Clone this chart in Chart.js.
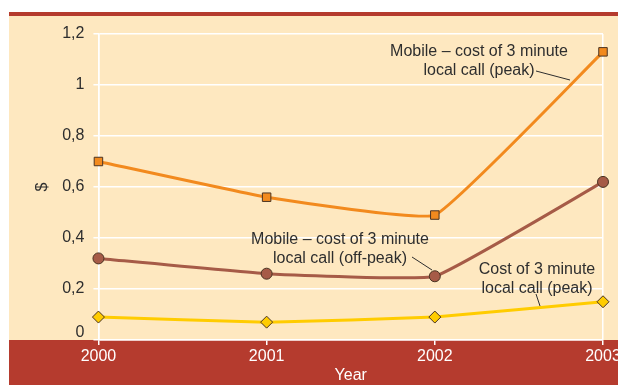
<!DOCTYPE html>
<html>
<head>
<meta charset="utf-8">
<script src="https://cdn.jsdelivr.net/npm/chart.js@4.4.0/dist/chart.umd.min.js"></script>
<style>
  html, body { margin: 0; padding: 0; background: #fff; }
  #wrap { width: 618px; height: 385px; }
</style>
</head>
<body>
<div id="wrap"><canvas id="chart" width="618" height="385"></canvas></div>
<script>
// Prix des appels, en $
const years = ['2000', '2001', '2002', '2003'];
const mobilePeak = [0.70, 0.56, 0.49, 1.13];
const mobileOffPeak = [0.32, 0.26, 0.25, 0.62];
const localPeak = [0.09, 0.07, 0.09, 0.15];

const FONT = "'Liberation Sans', Arial, sans-serif";
const RED = '#b53b2e';
const CREAM = '#fee8c0';
const TEXT = '#2e2e2e';

// Etiquettes des courbes avec leur trait de rappel
const callouts = [
  { lines: ['Mobile – cost of 3 minute', 'local call (peak)'], x: 479, y: 52, lead: [536, 71, 570, 80] },
  { lines: ['Mobile – cost of 3 minute', 'local call (off-peak)'], x: 340, y: 240, lead: [412, 257, 432, 270] },
  { lines: ['Cost of 3 minute', 'local call (peak)'], x: 537, y: 270, lead: [536, 294, 540, 306] }
];

// Fond : bandeau rouge en haut, zone crème, bande rouge sous l'axe
const backdrop = {
  id: 'backdrop',
  beforeDraw(chart) {
    const { ctx, width, height, chartArea } = chart;
    ctx.save();
    ctx.fillStyle = '#fff';
    ctx.fillRect(0, 0, width, height);
    ctx.fillStyle = RED;
    ctx.fillRect(9, 12, width - 9, 4);
    ctx.fillStyle = CREAM;
    ctx.fillRect(9, 16, width - 9, chartArea.bottom - 16);
    ctx.fillStyle = RED;
    ctx.fillRect(9, chartArea.bottom, width - 9, height - chartArea.bottom);
    ctx.restore();
  }
};

const calloutPlugin = {
  id: 'callouts',
  afterDatasetsDraw(chart) {
    const ctx = chart.ctx;
    ctx.save();
    ctx.font = '16px ' + FONT;
    ctx.fillStyle = TEXT;
    ctx.strokeStyle = TEXT;
    ctx.lineWidth = 1;
    ctx.textAlign = 'center';
    ctx.textBaseline = 'middle';
    callouts.forEach(c => {
      c.lines.forEach((t, i) => ctx.fillText(t, c.x, c.y + i * 19));
      ctx.beginPath();
      ctx.moveTo(c.lead[0], c.lead[1]);
      ctx.lineTo(c.lead[2], c.lead[3]);
      ctx.stroke();
    });
    ctx.restore();
  }
};

function makeSet(label, data, color, style, radius) {
  return {
    label,
    data,
    borderColor: color,
    backgroundColor: color,
    borderWidth: 3,
    tension: 0.1,
    pointStyle: style,
    pointRadius: radius,
    pointBorderColor: '#4a3322',
    pointBorderWidth: 1,
    pointBackgroundColor: color
  };
}

new Chart(document.getElementById('chart'), {
  type: 'line',
  data: {
    labels: years,
    datasets: [
      makeSet('Mobile – cost of 3 minute local call (peak)', mobilePeak, '#f28a1e', 'rect', 6),
      makeSet('Mobile – cost of 3 minute local call (off-peak)', mobileOffPeak, '#a65b47', 'circle', 5.5),
      makeSet('Cost of 3 minute local call (peak)', localPeak, '#ffcc00', 'rectRot', 6)
    ]
  },
  options: {
    responsive: false,
    animation: false,
    layout: { padding: { top: 34, right: 15, bottom: 0, left: 33 } },
    plugins: {
      legend: { display: false },
      tooltip: { enabled: false }
    },
    scales: {
      x: {
        offset: false,
        // le libellé 2003 déborde à droite, comme sur l'original
        afterFit: s => { s.paddingRight = 15; s.height = 45; },
        grid: {
          color: c => (c.index === 0 || c.index === years.length - 1) ? '#fff' : 'rgba(0,0,0,0)',
          tickColor: '#fff',
          tickLength: 5,
          lineWidth: 1.5
        },
        border: { color: '#fff', width: 1.5 },
        ticks: { color: '#fff', font: { family: FONT, size: 16 }, padding: 2, maxRotation: 0 },
        title: { display: true, text: 'Year', color: '#fff', font: { family: FONT, size: 16 }, padding: { top: 0, bottom: 0 } }
      },
      y: {
        min: 0,
        max: 1.2,
        grid: { color: '#fff', tickColor: '#fff', tickLength: 5, lineWidth: 1.5 },
        border: { color: '#fff', width: 1.5 },
        ticks: {
          stepSize: 0.2,
          color: TEXT,
          padding: 9,
          font: c => (c.tick && c.tick.value === 0)
            ? { family: FONT, size: 16, lineHeight: 0.875 }
            : { family: FONT, size: 16 },
          callback: v => {
            const r = Math.round(v * 10) / 10;
            if (r === 0) return ['0', ''];
            return String(r).replace('.', ',');
          }
        },
        title: { display: true, text: '$', color: TEXT, font: { family: FONT, size: 16 }, padding: { top: 0, bottom: 1 } }
      }
    }
  },
  plugins: [backdrop, calloutPlugin]
});
</script>
</body>
</html>
